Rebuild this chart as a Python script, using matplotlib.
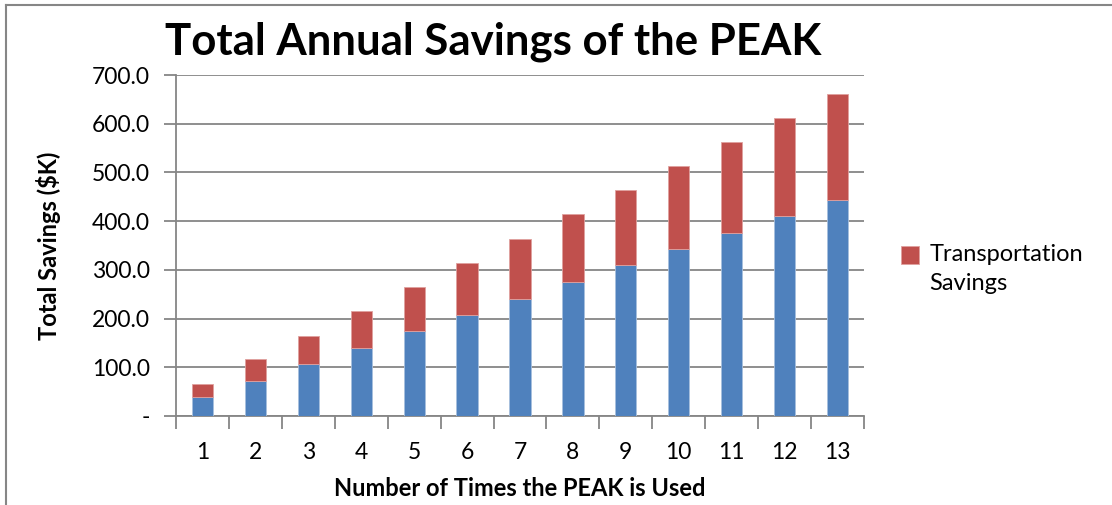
import matplotlib
matplotlib.use('Agg')
import matplotlib.pyplot as plt
from matplotlib.lines import Line2D
from matplotlib.patches import Rectangle
from matplotlib.legend_handler import HandlerPatch
from matplotlib.container import BarContainer
import numpy as np

# data ($K)
uses = list(range(1, 14))
other_savings = [38, 72, 106, 140, 174, 208, 241, 275, 309, 342, 376, 410, 443]
transport_savings = [28, 44, 59, 75, 91, 106, 123, 139, 154, 171, 187, 202, 219]
yticks = [0, 100, 200, 300, 400, 500, 600, 700]
ytick_labels = ['-', '100.0', '200.0', '300.0', '400.0', '500.0', '600.0', '700.0']

BLUE = '#4f81bd'
RED = '#c0504d'
GRID = '#868686'

plt.rcParams['font.family'] = ['Lato', 'DejaVu Sans']

fig = plt.figure(figsize=(11.12, 5.05), dpi=100)
W, H = 1112, 505
# plot area in pixels: x 176..864, y 75..416
ax = fig.add_axes([176 / W, 1 - 416 / H, (864 - 176) / W, (416 - 75) / H])

x = np.arange(len(uses))
ax.bar(x, other_savings, width=0.4, color=BLUE, edgecolor='#a7c0de', linewidth=0.6, zorder=3)
ax.bar(x, transport_savings, width=0.4, bottom=other_savings, color=RED,
       edgecolor='#e0a09e', linewidth=0.6, zorder=3, label='Transportation\nSavings')

ax.set_xlim(-0.5, len(uses) - 0.5)
ax.set_ylim(0, 700)
ax.set_yticks(yticks)
ax.set_yticklabels(ytick_labels, fontsize=16.5)
ax.yaxis.grid(True, color=GRID, lw=1.3, zorder=0)

# category ticks at boundaries, labels centred
ax.set_xticks(np.arange(-0.5, len(uses), 1.0))
ax.set_xticklabels([])
ax.set_xticks(x, minor=True)
ax.set_xticklabels([str(u) for u in uses], minor=True, fontsize=16.5)
ax.tick_params(axis='x', which='minor', length=0, pad=19)
ax.tick_params(axis='x', which='major', length=9, color=GRID, width=1.3)
ax.tick_params(axis='y', length=9, color=GRID, width=1.3, pad=10)

for s in ['top', 'right']:
    ax.spines[s].set_visible(False)
for s in ['left', 'bottom']:
    ax.spines[s].set_color(GRID)
    ax.spines[s].set_linewidth(1.3)

ax.set_xlabel('Number of Times the PEAK is Used', fontsize=17, fontweight='bold', labelpad=10)
ax.set_ylabel('Total Savings ($K)', fontsize=17, fontweight='bold', labelpad=22)

fig.text(165 / W, 1 - 42 / H, 'Total Annual Savings of the PEAK', fontsize=31.5,
         fontweight='bold', va='center', ha='left')


# legend marker sits beside the first line of the wrapped label
def top_square(legend, orig_handle, xdescent, ydescent, width, height, fontsize):
    sq = width
    return Rectangle((-xdescent, -ydescent + height - sq + 3), sq, sq)


def from_first_bar(legend_handle, orig_handle):
    legend_handle.update_from(orig_handle.patches[0])


leg = ax.legend(loc='center left', bbox_to_anchor=(880 / W, 1 - 269 / H),
                bbox_transform=fig.transFigure, frameon=False, fontsize=17,
                handlelength=0.75, handleheight=2.2, handletextpad=0.45,
                handler_map={BarContainer: HandlerPatch(patch_func=top_square,
                                                        update_func=from_first_bar)})
leg.get_texts()[0].set_linespacing(1.45)

# chart border (left and top edges visible)
fig.add_artist(Line2D([6 / W, 6 / W], [0, 1 - 5 / H], color=GRID, lw=1.5, transform=fig.transFigure))
fig.add_artist(Line2D([6 / W, 1], [1 - 5 / H, 1 - 5 / H], color=GRID, lw=1.5, transform=fig.transFigure))

fig.savefig('out.png', dpi=100)
